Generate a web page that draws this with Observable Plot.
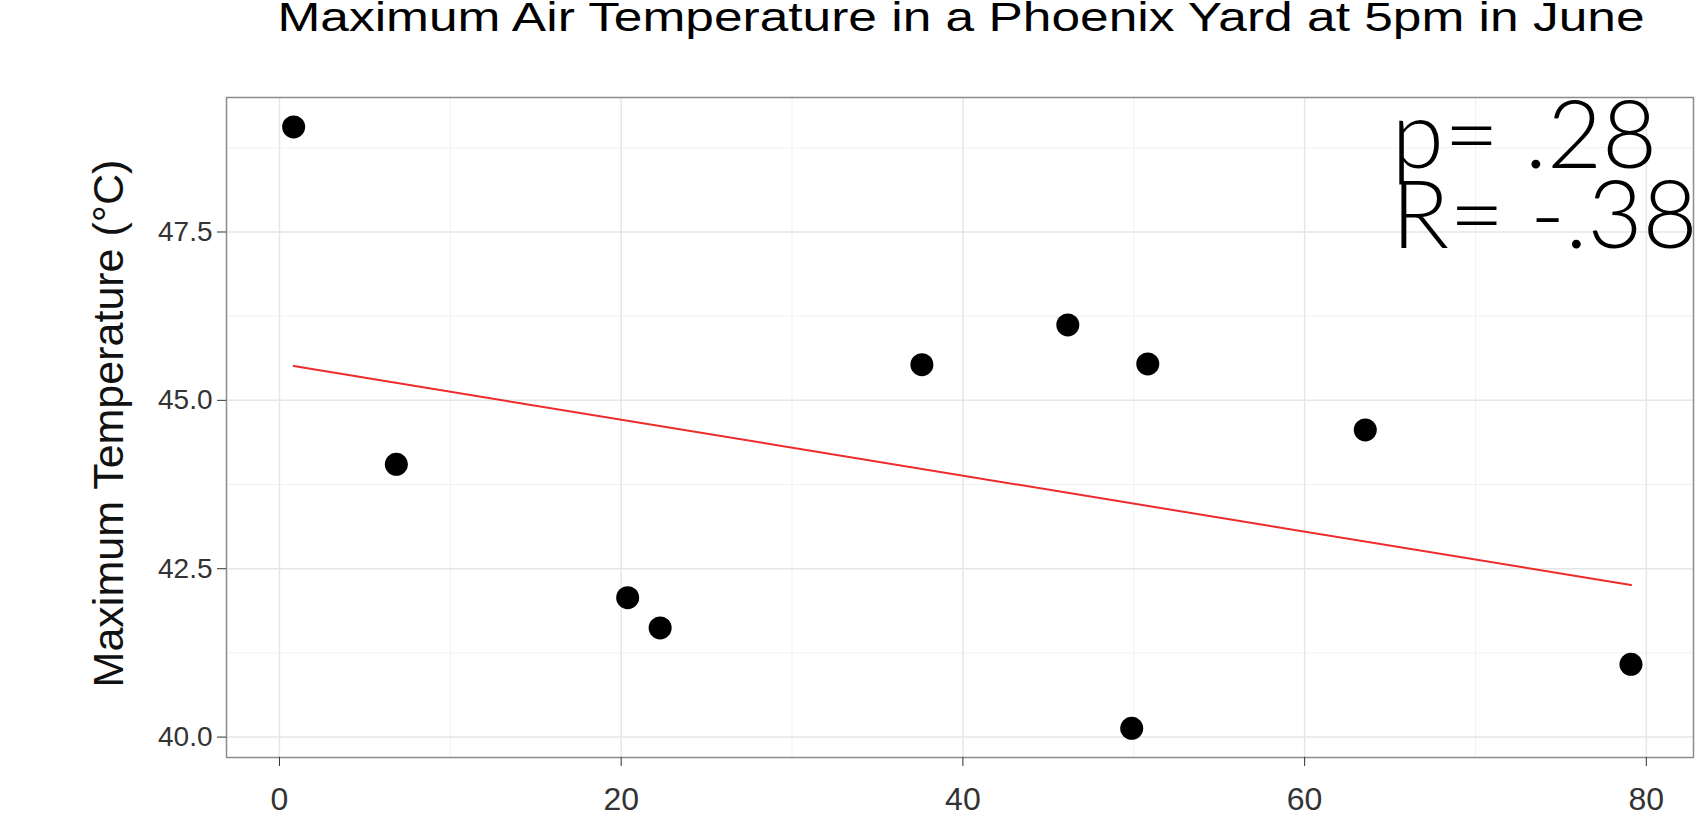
<!DOCTYPE html>
<html>
<head>
<meta charset="utf-8">
<script src="https://cdn.jsdelivr.net/npm/d3@7"></script>
<script src="https://cdn.jsdelivr.net/npm/@observablehq/plot@0.6"></script>
<style>
  html, body { margin: 0; padding: 0; background: #fff; }
  #wrap { width: 1696px; height: 816px; overflow: hidden; position: relative; }
  #title { position: relative; height: 60px; overflow: hidden; }
  #title span {
    position: absolute; left: 226px; width: 1470px; top: -3px;
    text-align: center; font: 41px/41px "Liberation Sans", Arial, sans-serif; color: #000;
    transform: scaleX(1.255); transform-origin: 50% 50%; white-space: nowrap;
  }
  #chart svg { display: block; }
</style>
</head>
<body>
<div id="wrap">
  <div id="title"><span>Maximum Air Temperature in a Phoenix Yard at 5pm in June</span></div>
  <div id="chart"></div>
</div>
<script>
// ---- data ----
const xValues = [0.83, 6.84, 20.38, 22.28, 37.6, 46.14, 50.82, 49.88, 63.55, 79.1];
const maxTemps = [49.06, 44.05, 42.07, 41.62, 45.53, 46.12, 45.54, 40.13, 44.56, 41.08];
const xTicks = [0, 20, 40, 60, 80];
const xMinorTicks = [10, 30, 50, 70];
const yTicks = [40, 42.5, 45, 47.5];
const yMinorTicks = [41.25, 43.75, 46.25, 48.75];
const yLabel = "Maximum Temperature (°C)";
const statLabels = ["p= .28", "R= -.38"];

const points = xValues.map((x, i) => ({x, y: maxTemps[i]}));

const chart = Plot.plot({
  width: 1696,
  height: 756,
  marginTop: 37,
  marginBottom: 59,
  marginLeft: 226,
  marginRight: 3,
  style: {background: "white", fontFamily: "'Liberation Sans', Arial, sans-serif"},
  x: {domain: [-3.10, 82.76]},
  y: {domain: [39.697, 49.497]},
  marks: [
    Plot.ruleX(xMinorTicks, {stroke: "#f1f1f1", strokeWidth: 1}),
    Plot.ruleY(yMinorTicks, {stroke: "#f1f1f1", strokeWidth: 1}),
    Plot.ruleX(xTicks, {stroke: "#e6e6e6", strokeWidth: 1.5}),
    Plot.ruleY(yTicks, {stroke: "#e6e6e6", strokeWidth: 1.5}),
    Plot.frame({stroke: "#8c8c8c", strokeWidth: 1.5}),
    Plot.axisX({ticks: xTicks, tickSize: 9, tickPadding: 21, fontSize: 32, color: "#333", label: null, tickFormat: d => String(d)}),
    Plot.axisY({ticks: yTicks, tickSize: 9, tickPadding: 5, fontSize: 28, color: "#333", label: null, tickFormat: d => d.toFixed(1)}),
    Plot.text([yLabel], {text: d => d, frameAnchor: "left", rotate: -90, dx: -117, dy: -4, fontSize: 43, fill: "#111", textAnchor: "middle", lineAnchor: "middle"}),
    Plot.linearRegressionY(points, {x: "x", y: "y", stroke: "#ee2a2a", strokeWidth: 2, ci: 0}),
    Plot.dot(points, {x: "x", y: "y", r: 11.5, fill: "black", stroke: null}),
    Plot.text([statLabels.join("\n")], {text: d => d, frameAnchor: "top-right", textAnchor: "start", lineAnchor: "top", dx: -302, dy: 14, fontSize: 95, lineHeight: 0.84, letterSpacing: 0.5, fontFamily: "Lato, 'Noto Sans', sans-serif", fontWeight: 300, fill: "black"})
  ]
});
document.getElementById("chart").appendChild(chart);
</script>
</body>
</html>
